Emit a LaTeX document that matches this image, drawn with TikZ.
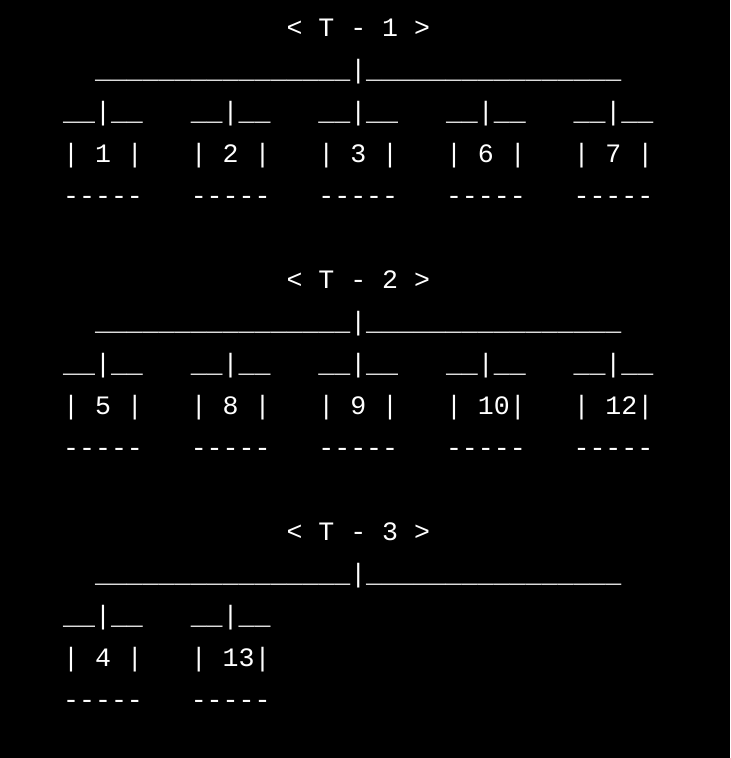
\documentclass[tikz,border=0pt]{standalone}
\usepackage{fontspec}
\setmonofont{Liberation Mono}
\newcommand\treebar{\_\_\_\_\_\_\_\_\_\_\_\_\_\_\_\_}% 16 underscores
\tikzset{
  term/.style = {inner sep=0pt, anchor=base west, white,
    font=\ttfamily\fontsize{26.58pt}{42pt}\selectfont},% terminal text
  leaf/.style = {term},% leaf lines
}

\begin{document}
\begin{tikzpicture}[x=15.95pt, y=-42pt]
\useasboundingbox[fill=black] (-3.95,-0.881) rectangle (41.82,17.167);
\foreach \t/\leaves [count=\b from 0] in {1/{1,2,3,6,7}, 2/{5,8,9,10,12}, 3/{4,13}} {
  \node [term] (title\t) at (14,6*\b) {< T - \t{} >};
  \node [term] (bar\t) at (2,6*\b+1) {\treebar|\treebar};
  \foreach \n [count=\k from 0] in \leaves {
    \node [leaf] (top\t-\n) at (8*\k,6*\b+2) {\_\_|\_\_};
    \node [leaf] (box\t-\n) at (8*\k,6*\b+3)
      {\ifnum\n<10 | \n{} |\else | \n|\fi};
    \node [leaf] (base\t-\n) at (8*\k,6*\b+4) {-----};
  }
}
\end{tikzpicture}
\end{document}
